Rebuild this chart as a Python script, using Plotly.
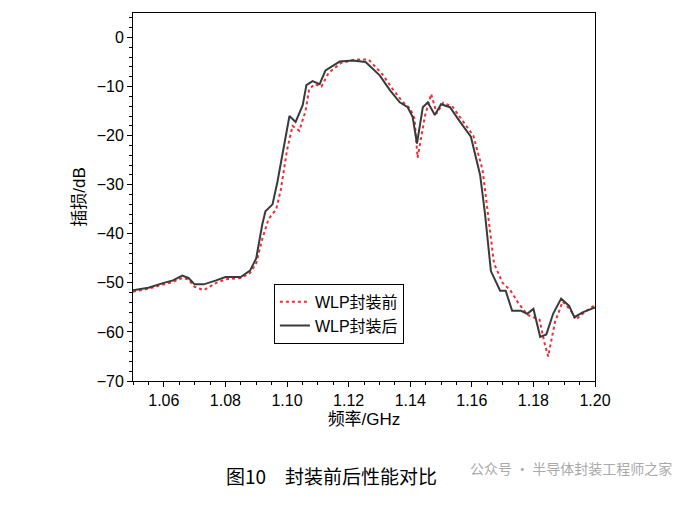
import plotly.graph_objects as go

f_after = [1.05,1.055,1.06,1.063,1.066,1.068,1.07,1.073,1.077,1.08,1.085,1.088,1.09,1.092,1.093,1.0953,1.0969,1.0992,1.1008,1.1028,1.1051,1.1063,1.1083,1.1106,1.1125,1.1171,1.1213,1.1255,1.1301,1.1334,1.1366,1.1392,1.1408,1.1422,1.1441,1.1457,1.148,1.15,1.1529,1.1562,1.1597,1.1627,1.1643,1.1662,1.1692,1.171,1.1731,1.176,1.178,1.18,1.1822,1.1842,1.1864,1.189,1.1916,1.1933,1.196,1.2]
v_after = [-51.5,-51,-50,-49.5,-48.5,-49,-50.3,-50.3,-49.5,-48.8,-48.8,-47.5,-45,-38,-35.4,-34,-29.4,-21,-16,-17.2,-13.8,-9.7,-8.9,-9.5,-6.7,-4.9,-4.7,-5,-7.7,-10.7,-13.2,-14.2,-16.2,-21.6,-14.2,-13.2,-15.8,-13.6,-14.2,-17.2,-20.2,-28,-36,-47.6,-51.6,-51.6,-55.7,-55.7,-56.3,-55.3,-61,-60.5,-56.3,-53.2,-54.7,-57,-56,-55]

f_before = [1.05,1.055,1.06,1.063,1.066,1.068,1.07,1.073,1.077,1.08,1.085,1.088,1.09,1.092,1.094,1.0965,1.098,1.1,1.1018,1.104,1.106,1.1072,1.109,1.1112,1.1135,1.1175,1.122,1.1265,1.131,1.1343,1.1374,1.14,1.1414,1.1424,1.1448,1.1468,1.1486,1.1507,1.1536,1.157,1.1605,1.1635,1.1652,1.1672,1.17,1.1725,1.175,1.178,1.18,1.182,1.1835,1.1848,1.187,1.1895,1.192,1.1938,1.1965,1.2]
v_before = [-51.8,-51.2,-50.3,-49.8,-49,-49.3,-50.8,-51.5,-50,-49.3,-49,-48,-46,-41,-37,-35,-31,-23,-18,-19,-15,-10.5,-9.5,-10,-7.2,-5.2,-4.5,-4.5,-7.5,-10.5,-13,-14.5,-16.5,-24.5,-16,-11.5,-15.5,-13.3,-14,-17,-20,-27,-36,-46,-50,-51.5,-54,-56.5,-57,-57.5,-62,-65,-58,-53.8,-55.5,-57.5,-56,-54.5]

fig = go.Figure()
fig.add_trace(go.Scatter(x=f_before, y=v_before, mode="lines", name="WLP封装前",
                         line=dict(color="#e8303a", width=2, dash="dot")))
fig.add_trace(go.Scatter(x=f_after, y=v_after, mode="lines", name="WLP封装后",
                         line=dict(color="#3a3a3a", width=2)))

ax = dict(showline=True, linecolor="black", linewidth=1, mirror=True, ticks="outside",
          ticklen=5, tickcolor="black", showgrid=False, zeroline=False,
          tickfont=dict(size=16, color="black"),
          minor=dict(ticks="outside", ticklen=3, tickcolor="black"))
fig.update_xaxes(**ax, range=[1.05, 1.2], dtick=0.02, tick0=1.06, tickformat=".2f",
                 title=dict(text="频率/GHz", font=dict(size=17, color="black"), standoff=4))
fig.update_yaxes(**ax, range=[-70, 5], dtick=10,
                 title=dict(text="插损/dB", font=dict(size=17, color="black"), standoff=6))
fig.update_layout(
    width=693, height=509, margin=dict(l=125, r=106, t=5, b=136),
    plot_bgcolor="white", paper_bgcolor="white",
    font=dict(family="Liberation Sans, Noto Sans CJK SC", color="black"),
    legend=dict(x=0.305, y=0.264, xanchor="left", yanchor="top",
                bordercolor="black", borderwidth=1, bgcolor="white",
                font=dict(size=16), tracegroupgap=0),
    annotations=[
        dict(text="图10　封装前后性能对比", xref="paper", yref="paper", x=0.43, y=-0.3,
             showarrow=False, font=dict(size=19, family="Noto Sans CJK SC", color="black")),
        dict(text="公众号 · 半导体封装工程师之家", xref="paper", yref="paper", x=1.17, y=-0.27,
             xanchor="right", showarrow=False, font=dict(size=14, color="#aaaaaa", family="Noto Sans CJK SC")),
    ],
)
fig.write_html("out.html")
